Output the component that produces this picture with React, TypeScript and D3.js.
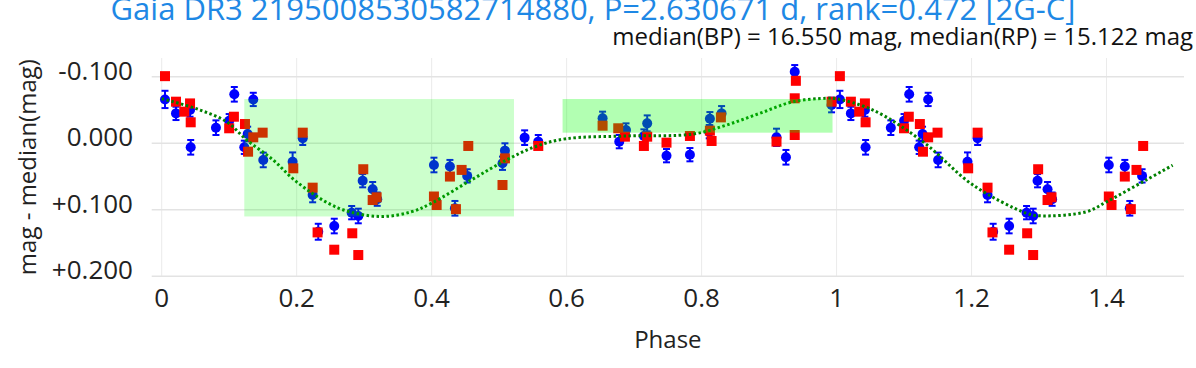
import React from "react";
import * as d3 from "d3";

const titleText = "Gaia DR3 2195008530582714880, P=2.630671 d, rank=0.472 [2G-C]";
const subtitleText = "median(BP) = 16.550 mag, median(RP) = 15.122 mag";
const xTicks = [0, 0.2, 0.4, 0.6, 0.8, 1.0, 1.2, 1.4];
const xTickLabels = ["0", "0.2", "0.4", "0.6", "0.8", "1", "1.2", "1.4"];
const yTicks = [-0.1, 0, 0.1, 0.2];
const yTickLabels = ["-0.100", "0.000", "+0.100", "+0.200"];

// BP (blue) observations: [phase, mag - median, error]
const bluePoints: [number, number, number][] = [
  [0.0049, -0.066, 0.013], [0.0212, -0.045, 0.01], [0.042, -0.05, 0.01], [0.043, 0.006, 0.011],
  [0.0804, -0.0235, 0.011], [0.1, -0.034, 0.01], [0.1076, -0.0737, 0.011], [0.1224, 0.006, 0.01],
  [0.1274, -0.014, 0.011], [0.1357, -0.066, 0.01], [0.1505, 0.025, 0.011], [0.194, 0.0277, 0.014],
  [0.209, -0.0075, 0.01], [0.2237, 0.0777, 0.011], [0.232, 0.133, 0.012], [0.2557, 0.1244, 0.011],
  [0.2815, 0.1043, 0.01], [0.2913, 0.1093, 0.011], [0.2978, 0.0562, 0.01], [0.3126, 0.0692, 0.011],
  [0.3194, 0.084, 0.01], [0.4034, 0.0326, 0.011], [0.4271, 0.035, 0.01], [0.4345, 0.0977, 0.011],
  [0.4527, 0.049, 0.01], [0.505, 0.03, 0.01], [0.5086, 0.011, 0.011], [0.5378, -0.0085, 0.011],
  [0.558, -0.0025, 0.01], [0.6533, -0.0376, 0.01], [0.678, -0.0025, 0.01], [0.688, -0.02, 0.01],
  [0.7145, -0.011, 0.01], [0.7194, -0.03, 0.012], [0.748, 0.0186, 0.01], [0.7827, 0.0171, 0.01],
  [0.8113, -0.0175, 0.01], [0.8123, -0.037, 0.01], [0.8296, -0.045, 0.011], [0.911, -0.009, 0.013],
  [0.925, 0.021, 0.011], [0.938, -0.1077, 0.01], [0.9926, -0.0576, 0.011],
];

// RP (red) observations: [phase, mag - median]
const redPoints: [number, number][] = [
  [0.0049, -0.101], [0.0212, -0.0626], [0.0335, -0.0476], [0.042, -0.06], [0.043, -0.0316],
  [0.1, -0.0226], [0.107, -0.04], [0.1234, -0.029], [0.128, 0.0126], [0.1357, -0.009],
  [0.1496, -0.016], [0.195, 0.0376], [0.209, -0.016], [0.2237, 0.0667], [0.231, 0.134],
  [0.2557, 0.16], [0.2824, 0.1353], [0.2913, 0.168], [0.2987, 0.039], [0.3126, 0.0853],
  [0.3185, 0.0812], [0.4034, 0.08], [0.4074, 0.0928], [0.4271, 0.05], [0.436, 0.099],
  [0.4444, 0.04], [0.4543, 0.004], [0.505, 0.0627], [0.5086, 0.0226], [0.558, 0.004],
  [0.6533, -0.0265], [0.6765, -0.0226], [0.6864, -0.01], [0.7145, 0.004], [0.7194, -0.01],
  [0.748, -0.001], [0.7827, -0.011], [0.8123, -0.019], [0.8148, -0.0035], [0.8286, -0.039],
  [0.911, -0.0025], [0.938, -0.0125], [0.938, -0.0677], [0.9397, -0.094], [0.9926, -0.0626],
];

// model curve [phase, value]
const modelCurve: [number, number][] = [
  [0, -0.067], [0.017, -0.0626], [0.057, -0.05], [0.096, -0.0325], [0.126, -0.005],
  [0.165, 0.025], [0.2, 0.058], [0.261, 0.097], [0.323, 0.11], [0.37, 0.103], [0.4, 0.09],
  [0.459, 0.055], [0.511, 0.025], [0.556, 0.004], [0.6, -0.007], [0.689, -0.011],
  [0.788, -0.014], [0.837, -0.0275], [0.886, -0.045], [0.936, -0.0626], [0.985, -0.0677],
  [1.0, -0.067], [1.054, -0.05], [1.128, -0.0024], [1.202, 0.0627], [1.281, 0.105],
  [1.301, 0.109], [1.37, 0.103], [1.4, 0.088], [1.459, 0.055], [1.498, 0.033],
];

// highlighted phase intervals: [x0, x1, y0, y1]
const boxes: [number, number, number, number][] = [
  [0.1224, 0.522, -0.0666, 0.11],
  [0.594, 0.994, -0.0666, -0.016],
];
const boxOpacity = [0.2, 0.3];

const W = 1196;
const H = 368;
const FONT = "'Open Sans', sans-serif";

function withRepeat<T extends number[]>(pts: T[]): T[] {
  const out: T[] = [...pts];
  pts.forEach((p) => {
    if (p[0] < 0.5) {
      const q = [...p] as unknown as T;
      q[0] = p[0] + 1;
      out.push(q);
    }
  });
  return out;
}

export default function App() {
  const x = d3.scaleLinear().domain([-0.0148, 1.5148]).range([151.7, 1184]);
  const y = d3.scaleLinear().domain([-0.1283, 0.2]).range([58, 276.3]);
  const [x0, x1] = x.range();
  const [yTop, yBot] = y.range();

  const blue = withRepeat(bluePoints);
  const red = withRepeat(redPoints);
  const line = d3
    .line<[number, number]>()
    .x((d) => x(d[0]))
    .y((d) => y(d[1]))
    .curve(d3.curveCatmullRom);

  return (
    <div style={{ position: "absolute", left: 0, top: 0 }}>
      <svg width={W} height={H} style={{ display: "block", background: "#fff" }}>
        {/* grid */}
        {xTicks.map((t) => (
          <line key={"gx" + t} x1={x(t)} x2={x(t)} y1={yTop} y2={yBot} stroke="#ebebeb" strokeWidth={1} />
        ))}
        {yTicks.map((t) => (
          <line key={"gy" + t} x1={x0} x2={x1} y1={y(t)} y2={y(t)} stroke="#e3e3e3" strokeWidth={1.5} />
        ))}

        {/* blue points with error bars */}
        <g>
          {blue.map((d, i) => (
            <g key={"b" + i} stroke="#0000ff" strokeWidth={2}>
              <line x1={x(d[0])} x2={x(d[0])} y1={y(d[1] - d[2])} y2={y(d[1] + d[2])} />
              <line x1={x(d[0]) - 3.5} x2={x(d[0]) + 3.5} y1={y(d[1] - d[2])} y2={y(d[1] - d[2])} />
              <line x1={x(d[0]) - 3.5} x2={x(d[0]) + 3.5} y1={y(d[1] + d[2])} y2={y(d[1] + d[2])} />
              <circle cx={x(d[0])} cy={y(d[1])} r={5} fill="#0000ff" stroke="none" />
            </g>
          ))}
        </g>
        {/* red squares */}
        <g>
          {red.map((d, i) => (
            <rect key={"r" + i} x={x(d[0]) - 5} y={y(d[1]) - 5} width={10} height={10} fill="#ff0000" />
          ))}
        </g>
        {/* model */}
        <path d={line(modelCurve) || ""} fill="none" stroke="#008000" strokeWidth={3} strokeDasharray="2.5,2.5" />

        {/* highlighted boxes */}
        {boxes.map((b, i) => (
          <rect
            key={"box" + i}
            x={x(b[0])}
            y={y(b[2])}
            width={x(b[1]) - x(b[0])}
            height={y(b[3]) - y(b[2])}
            fill="#00ff00"
            fillOpacity={boxOpacity[i]}
          />
        ))}

        {/* tick labels */}
        {xTicks.map((t, i) => (
          <text key={"tx" + t} x={x(t)} y={306.5} textAnchor="middle" fontFamily={FONT} fontSize={26} fill="#222">
            {xTickLabels[i]}
          </text>
        ))}
        {yTicks.map((t, i) => (
          <text key={"ty" + t} x={133} y={y(t) + 3} textAnchor="end" fontFamily={FONT} fontSize={26} fill="#222">
            {yTickLabels[i]}
          </text>
        ))}

        {/* axis titles */}
        <text x={(x0 + x1) / 2} y={348} textAnchor="middle" fontFamily={FONT} fontSize={24} fill="#222">
          Phase
        </text>
        <text
          transform={`translate(36,${(yTop + yBot) / 2}) rotate(-90)`}
          textAnchor="middle"
          fontFamily={FONT}
          fontSize={24}
          fill="#222"
        >
          mag - median(mag)
        </text>

        {/* titles */}
        <text x={593} y={20} textAnchor="middle" fontFamily={FONT} fontSize={31} fill="#1e88e5">
          {titleText}
        </text>
        <text x={1193} y={45} textAnchor="end" fontFamily={FONT} fontSize={24} fill="#111">
          {subtitleText}
        </text>
      </svg>
    </div>
  );
}
